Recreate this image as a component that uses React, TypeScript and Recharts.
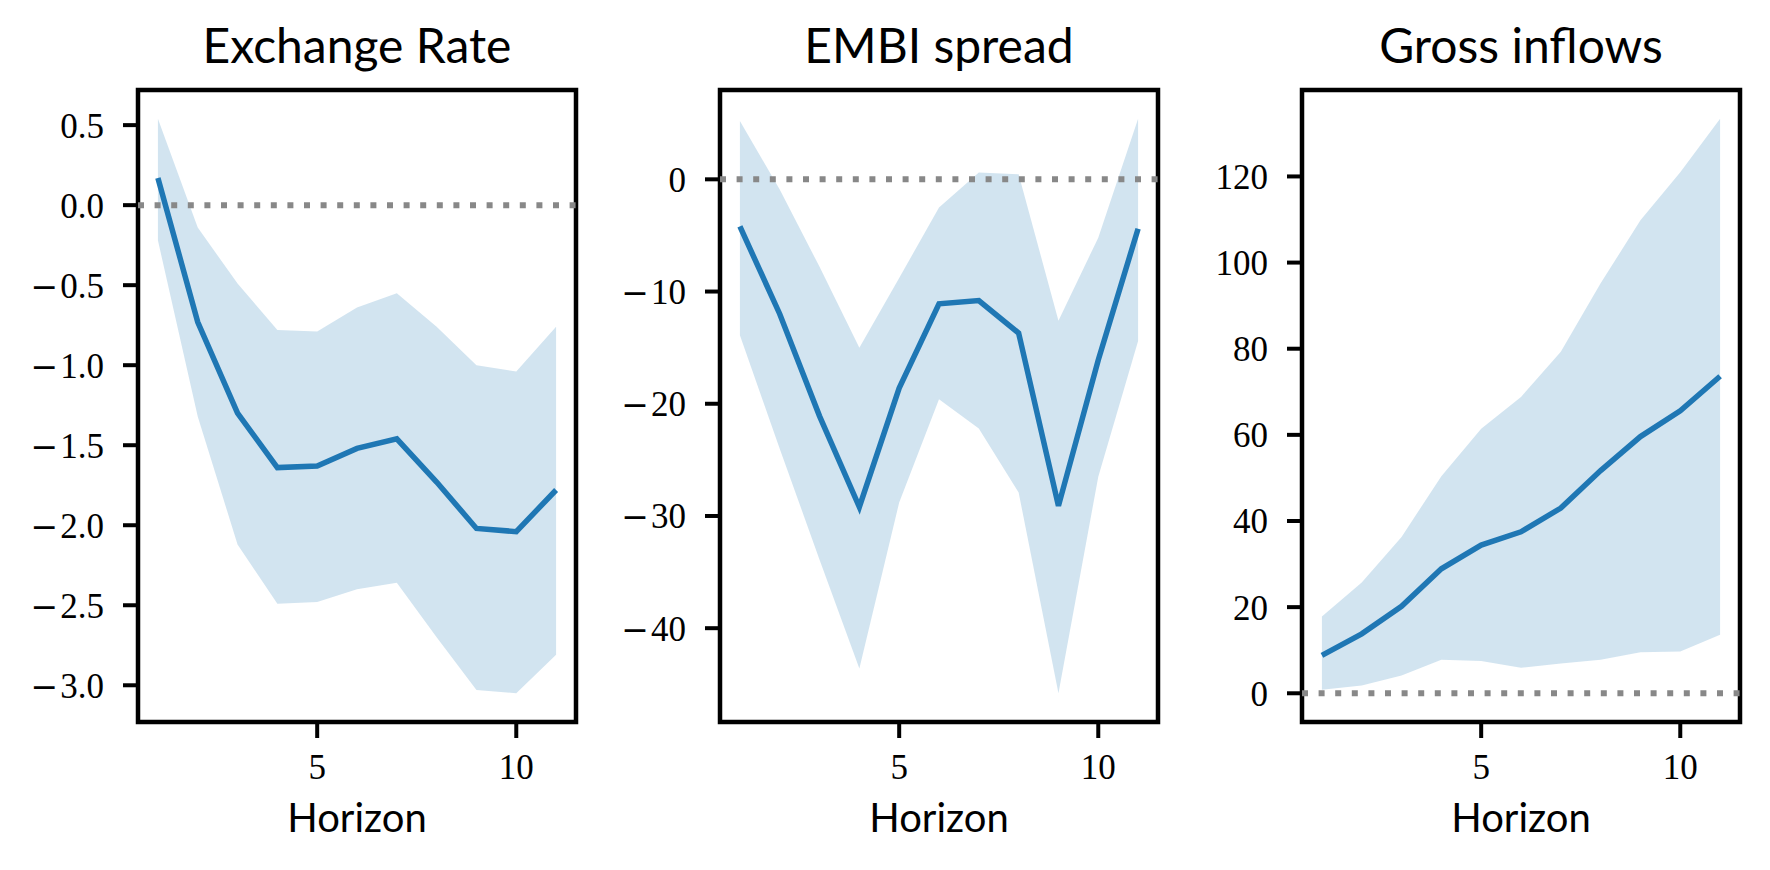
import React from "react";
import {
  Area,
  ComposedChart,
  Line,
  ReferenceArea,
  ReferenceLine,
  XAxis,
  YAxis,
} from "recharts";

// impulse responses, horizon 1..11
const horizon = [1, 2, 3, 4, 5, 6, 7, 8, 9, 10, 11];
const xTicks = [5, 10];

const fxMean = [0.17, -0.73, -1.3, -1.64, -1.63, -1.52, -1.46, -1.73, -2.02, -2.04, -1.78];
const fxLower = [-0.22, -1.32, -2.12, -2.49, -2.48, -2.4, -2.36, -2.7, -3.03, -3.05, -2.81];
const fxUpper = [0.54, -0.14, -0.49, -0.78, -0.79, -0.64, -0.55, -0.76, -1.0, -1.04, -0.76];
const fxTicks = [0.5, 0, -0.5, -1, -1.5, -2, -2.5, -3];

const embiMean = [-4.2, -12.0, -21.1, -29.2, -18.6, -11.1, -10.8, -13.7, -29.1, -16.1, -4.4];
const embiLower = [-13.9, -24.0, -33.9, -43.6, -28.8, -19.6, -22.2, -27.9, -45.8, -26.5, -14.4];
const embiUpper = [5.2, -0.9, -7.8, -15.0, -8.8, -2.5, 0.6, 0.45, -12.6, -5.2, 5.4];
const embiTicks = [0, -10, -20, -30, -40];

const grossMean = [8.8, 13.8, 20.2, 28.9, 34.4, 37.5, 43.0, 51.7, 59.6, 65.6, 73.6];
const grossLower = [0.8, 1.8, 4.1, 7.8, 7.5, 5.9, 6.9, 7.8, 9.5, 9.7, 13.6];
const grossUpper = [17.8, 25.7, 36.3, 50.4, 61.4, 68.8, 79.3, 95.2, 109.8, 121.0, 133.4];
const grossTicks = [0, 20, 40, 60, 80, 100, 120];

const titles = ["Exchange Rate", "EMBI spread", "Gross inflows"];

const BLUE = "#1f77b4";
const SANS = "Lato, 'Noto Sans', sans-serif";
const SERIF = "'Liberation Serif', 'DejaVu Serif', serif";
const TICK_SIZE = 35;

const STEP = 582;
const CHART_W = 582;
const CHART_H = 870;
const Y_AXIS_W = 138;
const PLOT_W = 438;
const PLOT_TOP = 90;
const X_AXIS_H = 120;
const BOTTOM = 28;

// matplotlib-style autoscale: 5% margin, zero line included
function paddedDomain(values: number[]): [number, number] {
  const lo = Math.min(0, ...values);
  const hi = Math.max(0, ...values);
  const pad = (hi - lo) * 0.05;
  return [lo - pad, hi + pad];
}

// y tick with a long TeX-like minus
function yTick(decimals: number) {
  return (props: any) => {
    const { x, y, payload } = props;
    const v = Number(payload.value);
    const digits = Math.abs(v).toFixed(decimals);
    return (
      <text
        x={x}
        y={y}
        dy="0.355em"
        textAnchor="end"
        fontFamily={SERIF}
        fontSize={TICK_SIZE}
        fill="#000"
      >
        {v < 0 && (
          <tspan fontFamily="'DejaVu Serif', serif" fontSize={33}>
            {"\u2212"}
          </tspan>
        )}
        <tspan dx={v < 0 ? 2 : 0}>{digits}</tspan>
      </text>
    );
  };
}

function IrfPanel({
  mean,
  lower,
  upper,
  ticks,
  decimals,
  left,
}: {
  mean: number[];
  lower: number[];
  upper: number[];
  ticks: number[];
  decimals: number;
  left: number;
}) {
  const data = horizon.map((h, i) => ({
    h,
    mean: mean[i],
    band: [lower[i], upper[i]],
  }));
  const domain = paddedDomain([...lower, ...upper]);

  return (
    <div style={{ position: "absolute", left, top: 0 }}>
      <ComposedChart
        width={CHART_W}
        height={CHART_H}
        data={data}
        margin={{ top: PLOT_TOP, right: CHART_W - Y_AXIS_W - PLOT_W, bottom: BOTTOM, left: 0 }}
      >
        <XAxis
          type="number"
          dataKey="h"
          domain={[0.5, 11.5]}
          ticks={xTicks}
          allowDataOverflow
          height={X_AXIS_H}
          axisLine={false}
          tickSize={16}
          tickMargin={16}
          tickLine={{ stroke: "#000", strokeWidth: 4 }}
          tick={{ fontFamily: SERIF, fontSize: TICK_SIZE, fill: "#000" }}
        />
        <YAxis
          type="number"
          domain={domain}
          ticks={ticks}
          allowDataOverflow
          width={Y_AXIS_W}
          axisLine={false}
          tickSize={15}
          tickMargin={19}
          tickLine={{ stroke: "#000", strokeWidth: 4 }}
          tick={yTick(decimals)}
        />
        <Area
          dataKey="band"
          type="linear"
          stroke="none"
          fill={BLUE}
          fillOpacity={0.2}
          isAnimationActive={false}
        />
        <ReferenceLine y={0} stroke="#888888" strokeWidth={6} strokeDasharray="6 10.6" />
        <Line
          dataKey="mean"
          type="linear"
          stroke={BLUE}
          strokeWidth={5.5}
          dot={false}
          isAnimationActive={false}
        />
        <ReferenceArea
          x1={0.5}
          x2={11.5}
          y1={domain[0]}
          y2={domain[1]}
          fill="none"
          stroke="#000"
          strokeWidth={4.5}
          fillOpacity={0}
        />
      </ComposedChart>
    </div>
  );
}

export default function App() {
  return (
    <div
      style={{
        position: "absolute",
        left: 0,
        top: 0,
        width: 1770,
        height: 870,
        background: "#fff",
      }}
    >
      <IrfPanel mean={fxMean} lower={fxLower} upper={fxUpper} ticks={fxTicks} decimals={1} left={0} />
      <IrfPanel mean={embiMean} lower={embiLower} upper={embiUpper} ticks={embiTicks} decimals={0} left={STEP} />
      <IrfPanel mean={grossMean} lower={grossLower} upper={grossUpper} ticks={grossTicks} decimals={0} left={STEP * 2} />
      <svg
        width={1770}
        height={870}
        style={{ position: "absolute", left: 0, top: 0, pointerEvents: "none" }}
      >
        {titles.map((t, i) => {
          const cx = i * STEP + Y_AXIS_W + PLOT_W / 2;
          return (
            <g key={t}>
              <text x={cx} y={63} textAnchor="middle" fontFamily={SANS} fontSize={48} fill="#000">
                {t}
              </text>
              <text x={cx} y={832} textAnchor="middle" fontFamily={SANS} fontSize={40} fill="#000">
                Horizon
              </text>
            </g>
          );
        })}
      </svg>
    </div>
  );
}
